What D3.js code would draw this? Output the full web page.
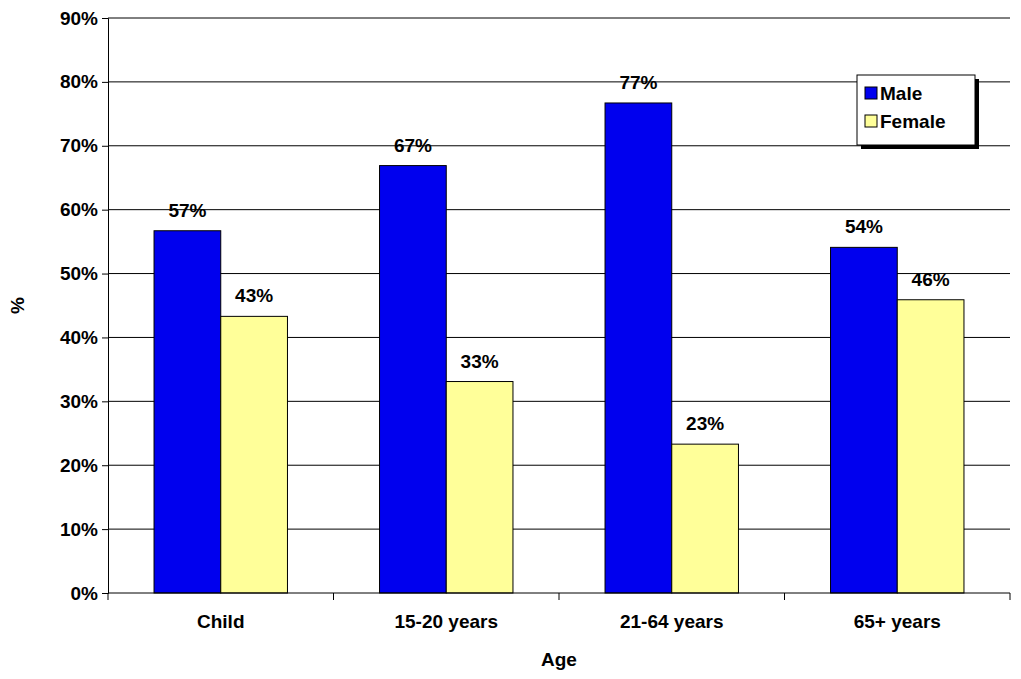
<!DOCTYPE html>
<html><head><meta charset="utf-8">
<script src="https://cdn.jsdelivr.net/npm/d3@7"></script>
<style>
body{margin:0;background:#fff;}
text{font-family:"Liberation Sans",Arial,sans-serif;font-weight:bold;}
</style></head>
<body><svg id="chart" width="1021" height="679"></svg>
<script>
const categories = ["Child", "15-20 years", "21-64 years", "65+ years"];
const seriesNames = ["Male", "Female"];
const maleValues = [56.7, 66.9, 76.7, 54.1];
const femaleValues = [43.3, 33.1, 23.3, 45.9];
const seriesColors = ["#0000ee", "#ffff99"];
const yTicks = [0, 10, 20, 30, 40, 50, 60, 70, 80, 90];

const FS = 19;
const svg = d3.select("#chart");
const m = { left: 108, right: 11, top: 18, bottom: 86 };
const W = 1021 - m.left - m.right, H = 679 - m.top - m.bottom;
const g = svg.append("g").attr("transform", `translate(${m.left},${m.top})`);

const x = d3.scaleBand().domain(categories).range([0, W]).paddingInner(0).paddingOuter(0);
const y = d3.scaleLinear().domain([0, 90]).range([H, 0]);
const xs = d3.scaleBand().domain(seriesNames).range([0, x.bandwidth()]).paddingInner(0).paddingOuter(0.69);

// gridlines
g.selectAll(".grid").data(yTicks.slice(1)).join("line")
  .attr("x1", 0).attr("x2", W).attr("y1", d => y(d)).attr("y2", d => y(d))
  .attr("stroke", "#000").attr("stroke-width", 1);

const data = [maleValues, femaleValues];
categories.forEach((c, i) => {
  seriesNames.forEach((s, j) => {
    const v = data[j][i];
    const bx = x(c) + xs(s);
    g.append("rect").attr("x", bx).attr("y", y(v))
      .attr("width", xs.bandwidth()).attr("height", H - y(v))
      .attr("fill", seriesColors[j]).attr("stroke", "#000").attr("stroke-width", 1);
    g.append("text").attr("x", bx + xs.bandwidth() / 2).attr("y", y(v) - 14)
      .attr("text-anchor", "middle").attr("font-size", FS).text(Math.round(v) + "%");
  });
});

// axes
const ya = g.append("g").call(d3.axisLeft(y).tickValues(yTicks).tickFormat(d => d + "%").tickSize(6).tickPadding(4));
ya.select(".domain").attr("stroke", "#000");
ya.selectAll("text").attr("font-size", FS).attr("font-family", "Liberation Sans,Arial").attr("font-weight", "bold");

const xa = g.append("g").attr("transform", `translate(0,${H})`)
  .call(d3.axisBottom(x).tickSize(0).tickPadding(22));
xa.selectAll("text").attr("font-size", FS).attr("font-family", "Liberation Sans,Arial").attr("font-weight", "bold");
xa.select(".domain").attr("d", `M0,0H${W}`);
g.selectAll(".xt").data(d3.range(categories.length + 1)).join("line")
  .attr("x1", d => d * x.bandwidth()).attr("x2", d => d * x.bandwidth())
  .attr("y1", H).attr("y2", H + 7).attr("stroke", "#000");

svg.append("text").attr("x", m.left + W / 2).attr("y", 666).attr("text-anchor", "middle")
  .attr("font-size", FS).text("Age");
svg.append("text").attr("transform", `translate(24,${m.top + H / 2}) rotate(-90)`)
  .attr("text-anchor", "middle").attr("font-size", FS).text("%");

// legend
const lg = svg.append("g").attr("transform", "translate(857,75)");
lg.append("rect").attr("x", 4).attr("y", 4).attr("width", 118).attr("height", 70).attr("fill", "#000");
lg.append("rect").attr("width", 118).attr("height", 70).attr("fill", "#fff").attr("stroke", "#000");
seriesNames.forEach((s, j) => {
  lg.append("rect").attr("x", 8).attr("y", 12 + j * 28).attr("width", 12).attr("height", 12)
    .attr("fill", seriesColors[j]).attr("stroke", "#000");
  lg.append("text").attr("x", 23).attr("y", 25 + j * 28).attr("font-size", FS).text(s);
});
</script></body></html>
